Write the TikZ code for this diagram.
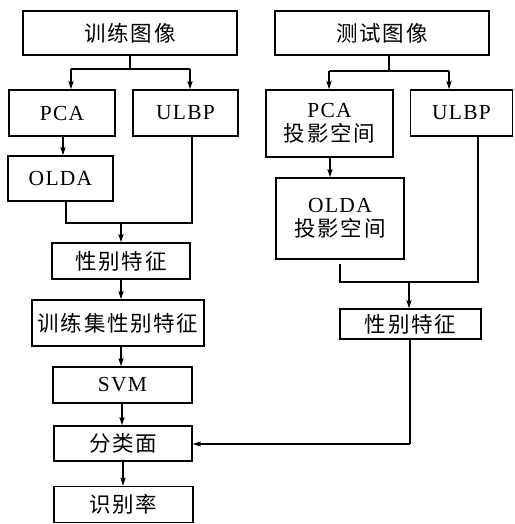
\documentclass[tikz,border=0pt]{standalone}
\usepackage{fontspec}
\setmainfont[LetterSpace=6]{Liberation Serif}
\newfontfamily\cjk[LetterSpace=8]{Noto Sans CJK SC}
\usetikzlibrary{arrows.meta}
\tikzset{
  x=1pt,y=-1pt,
  box/.style={draw,line width=1.3pt,rectangle,inner sep=0pt,align=center,
    font=\fontsize{21.5}{24}\selectfont},
  conn/.style={line width=1.3pt},
  arr/.style={line width=1.3pt,-{Stealth[length=8pt,width=5pt,inset=1pt]}},
}
\newcommand{\zh}[1]{{\cjk #1}}
\begin{document}
\begin{tikzpicture}
\useasboundingbox (0,0) rectangle (514,524);
% left column
\node[box,minimum width=214,minimum height=44] (train) at (130,33) {\zh{训练图像}};
\node[box,minimum width=106,minimum height=46] (pcaL) at (62,113) {PCA};
\node[box,minimum width=105,minimum height=46] (ulbpL) at (185.5,113) {ULBP};
\node[box,minimum width=105,minimum height=45] (oldaL) at (60.5,178.5) {OLDA};
\node[box,minimum width=138,minimum height=36] (featL) at (121,261) {\zh{性别特征}};
\node[box,minimum width=172,minimum height=46] (trainset) at (118,323) {\zh{训练集性别特征}};
\node[box,minimum width=139,minimum height=36] (svm) at (122.5,385) {SVM};
\node[box,minimum width=138,minimum height=35] (cls) at (123,443.5) {\zh{分类面}};
\node[box,minimum width=139,minimum height=36] (rate) at (123.5,504.5) {\zh{识别率}};
% right column
\node[box,minimum width=214,minimum height=44] (test) at (382,33) {\zh{测试图像}};
\node[box,minimum width=127,minimum height=67] (pcaR) at (329.5,123.5) {PCA\\\zh{投影空间}};
\node[box,minimum width=102,minimum height=46] (ulbpR) at (461.5,113) {ULBP};
\node[box,minimum width=128,minimum height=81] (oldaR) at (340,218.5) {OLDA\\\zh{投影空间}};
\node[box,minimum width=141,minimum height=30] (featR) at (410.5,324) {\zh{性别特征}};
% coordinates
\coordinate (aL) at (71,69);
\coordinate (bL) at (190,69);
\coordinate (mL) at (66,223);
\coordinate (nL) at (192,223);
\coordinate (cL) at (121,223);
\coordinate (aR) at (329,71);
\coordinate (bR) at (449,71);
\coordinate (mR) at (340,282);
\coordinate (nR) at (478,282);
\coordinate (cR) at (409,282);
\coordinate (tR) at (410,444);
% left connectors
\draw[conn] (train.south) -- (train.south |- aL);
\draw[conn] (aL) -- (bL);
\draw[arr] (aL) -- (aL |- pcaL.north);
\draw[arr] (bL) -- (bL |- ulbpL.north);
\draw[arr] (pcaL.south -| 63,0) -- (oldaL.north -| 63,0);
\draw[conn] (oldaL.south -| mL) -- (mL) -- (nL) -- (ulbpL.south -| nL);
\draw[arr] (cL) -- (cL |- featL.north);
\draw[arr] (featL.south) -- (featL.south |- trainset.north);
\draw[arr] (trainset.south -| featL.south) -- (svm.north -| featL.south);
\draw[arr] (svm.south -| 122,0) -- (cls.north -| 122,0);
\draw[arr] (cls.south) -- (rate.north -| cls.south);
% right connectors
\draw[conn] (test.south -| 389,0) -- (389,71);
\draw[conn] (aR) -- (bR);
\draw[arr] (aR) -- (aR |- pcaR.north);
\draw[arr] (bR) -- (bR |- ulbpR.north);
\draw[arr] (pcaR.south -| 330,0) -- (oldaR.north -| 330,0);
\draw[conn] ([yshift=-4]oldaR.south -| mR) -- (mR) -- (nR) -- (ulbpR.south -| nR);
\draw[arr] (cR) -- (cR |- featR.north);
\draw[conn] (featR.south -| tR) -- (tR);
\draw[arr] (tR) -- (cls.east |- tR);
\end{tikzpicture}
\end{document}
